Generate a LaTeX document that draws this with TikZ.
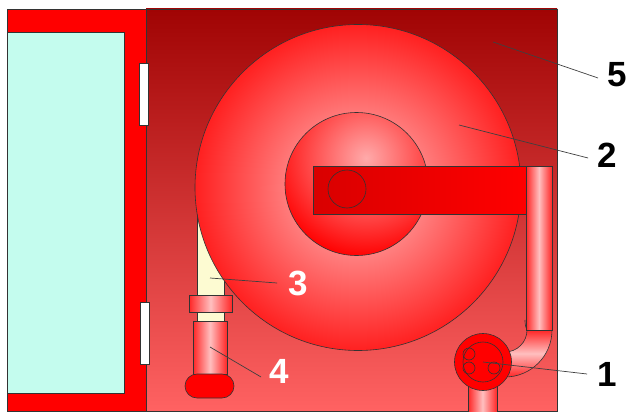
\documentclass[tikz,border=0pt]{standalone}
\usepackage{fontspec}
\setmainfont{Liberation Sans}
\begin{document}
\begin{tikzpicture}[x=1pt,y=-1pt,
  outline/.style={draw=black!80,line width=0.6pt},
  leader/.style={draw=black!75,line width=0.7pt},
  num/.style={font=\fontsize{35}{38}\selectfont\bfseries,inner sep=0pt},
  pipeshade/.style={outline,left color=red!85!white,right color=red!85!white,middle color=red!25!white},
]
\definecolor{cabtop}{HTML}{A00404}
\definecolor{cabbot}{HTML}{FF6262}
\definecolor{glass}{HTML}{C4FCEE}
\definecolor{hosecream}{HTML}{FDFBD2}
\definecolor{drumpink}{HTML}{FFC4C4}
\definecolor{hubpink}{HTML}{FFAAAA}
\useasboundingbox (0,0) rectangle (632,412);

% cabinet body
\shade[top color=cabtop,bottom color=cabbot,outline] (146,9) rectangle (557,411);
\coordinate (p5) at (493,42);

% flat hose running behind the reel
\path[outline,fill=hosecream] (197,200) rectangle (224,322);
\coordinate (p3) at (210,278);

% reel drum
\begin{scope}
  \clip (358,187.5) circle[radius=163];
  \shade[inner color=drumpink,outer color=red] (358,187.5) circle[radius=195];
\end{scope}
\draw[outline] (358,187.5) circle[radius=163];
\coordinate (p2) at (459,125);

% hub
\begin{scope}
  \clip (356.5,184) circle[radius=71.5];
  \shade[inner color=hubpink,outer color=red] (366,158) circle[radius=100];
\end{scope}
\draw[outline] (356.5,184) circle[radius=71.5];

% spindle arm
\shade[outline,left color=red!85!black,right color=red] (313,166) rectangle (526,214);
\draw[outline] (347,189) circle[radius=19];

% supply pipe and elbow
\shade[outline,left color=red!85!white,right color=red!85!white,middle color=red!25!white,shading angle=0]
  (505,330) ++(47,0) arc[start angle=0,end angle=90,radius=47] -- ++(0,-25)
  arc[start angle=90,end angle=0,radius=22] -- cycle;
\draw[outline] (527,330) .. controls (525,326) and (525,322) .. (525,320);
\shade[pipeshade] (526,166) rectangle (552,330);

% outlet pipe below the valve
\shade[pipeshade] (468,385) rectangle (497,413);

% valve
\path[outline,fill=red] (483,362) circle[radius=28.5];
\draw[outline] (483,362) circle[radius=20];
\draw[outline] (469,354) circle[radius=6];
\draw[outline] (469,368) circle[radius=6];
\draw[outline] (494,368) circle[radius=6];
\coordinate (p1) at (483,362);

% nozzle
\shade[pipeshade] (189,295) rectangle (232,312);
\shade[pipeshade] (193,321) rectangle (227,374);
\path[outline,fill=red,rounded corners=12pt] (185,374) rectangle (234,398);
\coordinate (p4) at (210,347);

% door frame with glass
\path[outline,fill=red] (7,9) rectangle (146,411);
\path[outline,fill=glass] (7,32) rectangle (124,393);

% hinges
\path[outline,fill=white] (139.5,63) rectangle (148.5,125);
\path[outline,fill=white] (140.5,302) rectangle (149.5,364);

% labels
\node[num] (n5) at (617,75) {5};
\node[num] (n2) at (607,155) {2};
\node[num] (n1) at (607,374) {1};
\node[num,text=white] (n3) at (298,283) {3};
\node[num,text=white] (n4) at (279,371) {4};

\draw[leader] (p5) -- ([xshift=-9pt,yshift=-3pt]n5.west);
\draw[leader] (p2) -- ([xshift=-9pt,yshift=-3pt]n2.west);
\draw[leader] (p1) -- ([xshift=-10pt]n1.west);
\draw[leader] (p3) -- ([xshift=-11pt]n3.west);
\draw[leader] (p4) -- ([xshift=-8pt,yshift=-6pt]n4.west);
\end{tikzpicture}
\end{document}
